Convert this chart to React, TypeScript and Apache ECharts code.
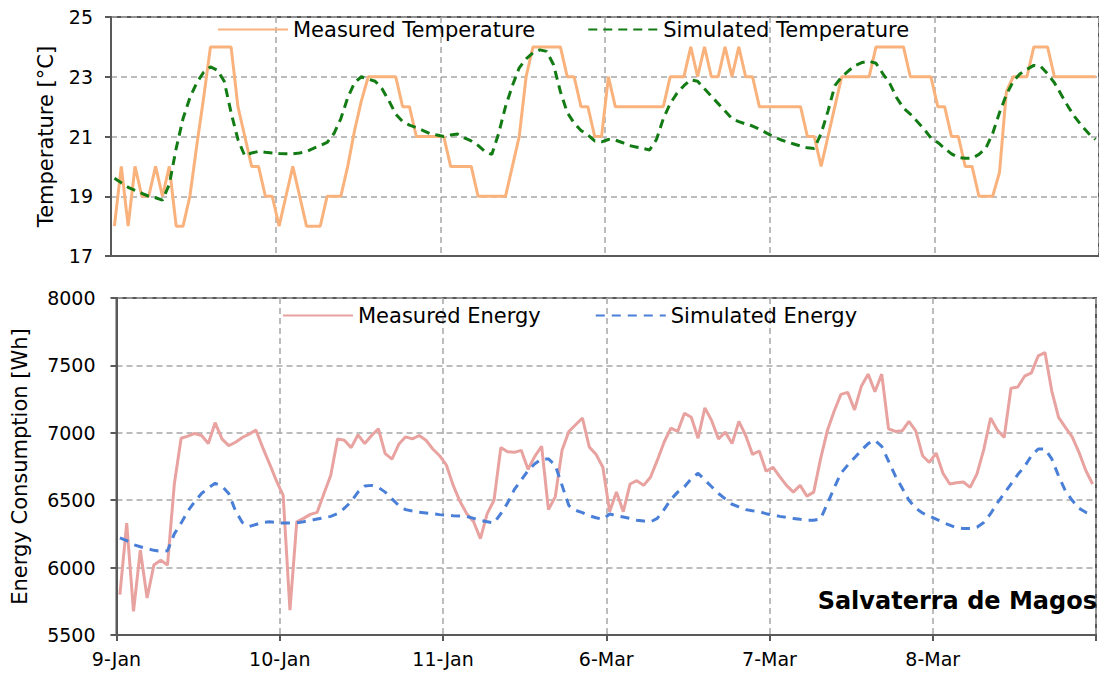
import React, { useEffect, useRef } from 'react';
import * as echarts from 'echarts';

const dayLabels = ['9-Jan', '10-Jan', '11-Jan', '6-Mar', '7-Mar', '8-Mar'];

const measuredTemp = [
  18, 20, 18, 20, 19, 19, 20, 19, 20, 18,
  18, 19, 20.7, 22.3, 24, 24, 24, 24, 22, 21,
  20, 20, 19, 19, 18, 19, 20, 19, 18, 18,
  18, 19, 19, 19, 20, 21.2, 22.2, 23, 23, 23,
  23, 23, 22, 22, 21, 21, 21, 21, 21, 20,
  20, 20, 20, 19, 19, 19, 19, 19, 20, 21,
  23, 24, 24, 24, 24, 24, 23, 23, 22, 22,
  21, 21, 23, 22, 22, 22, 22, 22, 22, 22,
  22, 23, 23, 23, 24, 23, 24, 23, 23, 24,
  23, 24, 23, 23, 22, 22, 22, 22, 22, 22,
  22, 21, 21, 20, 21, 22, 23, 23, 23, 23,
  23, 24, 24, 24, 24, 24, 23, 23, 23, 23,
  22, 22, 21, 21, 20, 20, 19, 19, 19, 19.8,
  22.5, 23, 23, 23, 24, 24, 24, 23, 23, 23,
  23, 23, 23, 23,
];

const simulatedTemp = [
  19.6, 19.45, 19.3, 19.2, 19.1, 19.0, 18.95, 18.87, 19.4, 20.6,
  21.6, 22.3, 22.8, 23.15, 23.33, 23.22, 22.85, 21.8, 20.9, 20.35,
  20.45, 20.5, 20.47, 20.45, 20.43, 20.42, 20.42, 20.45, 20.5, 20.6,
  20.7, 20.8, 21.1, 21.6, 22.3, 22.8, 23.0, 22.92, 22.85, 22.6,
  22.2, 21.75, 21.5, 21.38, 21.3, 21.2, 21.1, 21.05, 21.0, 21.05,
  21.08, 20.95, 20.85, 20.7, 20.5, 20.4, 21.1, 22.0, 22.7, 23.3,
  23.6, 23.8, 23.9, 23.85, 23.4, 22.5, 21.8, 21.45, 21.2, 21.05,
  20.85, 20.82, 20.9, 20.88, 20.8, 20.7, 20.65, 20.6, 20.55, 20.9,
  21.6, 22.1, 22.45, 22.7, 22.9, 22.85, 22.6, 22.35, 22.1, 21.85,
  21.6, 21.5, 21.42, 21.35, 21.25, 21.12, 21.0, 20.9, 20.82, 20.75,
  20.68, 20.62, 20.6, 21.1, 21.85, 22.7, 23.0, 23.2, 23.38, 23.48,
  23.52, 23.45, 23.1, 22.78, 22.3, 21.95, 21.75, 21.5, 21.25, 20.95,
  20.8, 20.6, 20.42, 20.3, 20.27, 20.27, 20.4, 20.6, 21.1, 21.8,
  22.4, 22.85, 23.1, 23.25, 23.38, 23.35, 23.1, 22.8, 22.4, 22.0,
  21.65, 21.35, 21.1, 20.9,
];

const measuredEnergy = [
  5800, 6330, 5675, 6130, 5775, 6020, 6055, 6020, 6620, 6960,
  6975, 6995, 6980, 6920, 7075, 6955, 6905, 6930, 6965, 6990,
  7020, 6890, 6770, 6645, 6535, 5685, 6340, 6365, 6395, 6410,
  6550, 6685, 6955, 6945, 6890, 6985, 6920, 6980, 7030, 6845,
  6805, 6915, 6970, 6955, 6980, 6945, 6880, 6830, 6760, 6610,
  6490, 6400, 6340, 6215, 6400, 6500, 6890, 6860, 6855, 6870,
  6730, 6825, 6900, 6430, 6525, 6870, 7010, 7060, 7110, 6895,
  6840, 6745, 6415, 6560, 6415, 6620, 6645, 6610, 6670, 6795,
  6930, 7035, 7010, 7145, 7115, 6960, 7185, 7090, 6955, 7005,
  6920, 7085, 6980, 6840, 6865, 6715, 6745, 6675, 6610, 6560,
  6610, 6530, 6560, 6805, 7015, 7160, 7285, 7300, 7170, 7345,
  7435, 7305, 7435, 7030, 7010, 7015, 7085, 7015, 6830, 6780,
  6850, 6700, 6620, 6630, 6635, 6595, 6695, 6875, 7110, 7020,
  6965, 7330, 7340, 7420, 7445, 7570, 7595, 7310, 7115, 7040,
  6970, 6855, 6720, 6620,
];

const simulatedEnergy = [
  6220, 6200, 6170, 6155, 6140, 6128, 6120, 6125, 6250, 6330,
  6420, 6490, 6550, 6590, 6625, 6605, 6550, 6420, 6335, 6305,
  6320, 6335, 6340, 6335, 6330, 6330, 6332, 6340, 6350, 6360,
  6370, 6380, 6400, 6440, 6490, 6560, 6605, 6610, 6595, 6560,
  6510, 6460, 6430, 6420, 6410, 6405, 6400, 6393, 6388, 6385,
  6383, 6380, 6365, 6350, 6340, 6330, 6400, 6480, 6580, 6650,
  6720, 6770, 6806, 6806, 6760, 6610, 6460, 6425, 6408, 6385,
  6370, 6358, 6398, 6385, 6376, 6365, 6351, 6345, 6339, 6365,
  6430, 6505, 6560, 6600, 6660, 6700, 6650, 6600, 6550, 6510,
  6470, 6450, 6430, 6422, 6415, 6400, 6390, 6380, 6372, 6365,
  6358, 6352, 6352, 6360, 6474, 6590, 6700, 6760, 6815, 6870,
  6920, 6945, 6900, 6790, 6680, 6590, 6500, 6440, 6405, 6382,
  6360, 6335, 6315, 6295, 6290, 6290, 6300, 6335, 6400, 6480,
  6550, 6620, 6690, 6750, 6830, 6880, 6880, 6806, 6680, 6570,
  6499, 6440, 6410, 6395,
];

const toPairs = (arr: number[]) => arr.map((v, i) => [i + 0.5, v]);

const FONT = 'DejaVu Sans';
const AXIS_COLOR = '#595959';
const GRID_COLOR = '#A6A6A6';

export default function App() {
  const ref = useRef<HTMLDivElement>(null);
  useEffect(() => {
    if (!ref.current) return;
    const chart = echarts.init(ref.current, undefined, { renderer: 'svg' });
    const splitLine = { show: true, lineStyle: { color: GRID_COLOR, type: [6, 4], width: 1.5 } };
    const axisLine = { show: true, lineStyle: { color: AXIS_COLOR, width: 2 } };
    const plainNum = (v: number) => String(v);
    const option: any = {
      animation: false,
      textStyle: { fontFamily: FONT },
      grid: [
        { left: 111, top: 17, width: 996, height: 239, show: true, borderColor: AXIS_COLOR, borderWidth: 2 },
        { left: 116.5, top: 298, width: 991, height: 337, show: true, borderColor: AXIS_COLOR, borderWidth: 2 },
      ],
      xAxis: [
        {
          gridIndex: 0, type: 'value', min: 0, max: 144, interval: 24,
          axisLine, axisTick: { show: false }, axisLabel: { show: false }, splitLine,
        },
        {
          gridIndex: 1, type: 'value', min: 0, max: 144, interval: 24,
          axisLine,
          axisTick: { show: true, length: 6, lineStyle: { color: AXIS_COLOR, width: 2 } },
          axisLabel: {
            formatter: (v: number) => dayLabels[Math.round(v / 24)] ?? '',
            fontSize: 19, color: '#000', margin: 14, fontFamily: FONT,
          },
          splitLine,
        },
      ],
      yAxis: [
        {
          gridIndex: 0, type: 'value', min: 17, max: 25, interval: 2,
          name: 'Temperature [°C]', nameLocation: 'middle', nameGap: 55,
          nameTextStyle: { fontSize: 21, color: '#000', fontFamily: FONT },
          axisLine,
          axisTick: { show: true, length: 6, lineStyle: { color: AXIS_COLOR, width: 2 } },
          axisLabel: { fontSize: 19, color: '#000', margin: 18, fontFamily: FONT, formatter: plainNum },
          splitLine,
        },
        {
          gridIndex: 1, type: 'value', min: 5500, max: 8000, interval: 500,
          name: 'Energy Consumption [Wh]', nameLocation: 'middle', nameGap: 86,
          nameTextStyle: { fontSize: 21, color: '#000', fontFamily: FONT },
          axisLine,
          axisTick: { show: true, length: 6, lineStyle: { color: AXIS_COLOR, width: 2 } },
          axisLabel: { fontSize: 19, color: '#000', margin: 21, fontFamily: FONT, formatter: plainNum },
          splitLine,
        },
      ],
      legend: [
        {
          data: ['Measured Temperature', 'Simulated Temperature'],
          left: 212, top: 14, itemWidth: 70, itemHeight: 14, itemGap: 52,
          itemStyle: { opacity: 0 },
          textStyle: { fontSize: 21, color: '#000', fontFamily: FONT },
        },
        {
          data: ['Measured Energy', 'Simulated Energy'],
          left: 277, top: 300, itemWidth: 70, itemHeight: 14, itemGap: 54,
          itemStyle: { opacity: 0 },
          textStyle: { fontSize: 21, color: '#000', fontFamily: FONT },
        },
      ],
      series: [
        {
          name: 'Measured Temperature', type: 'line', xAxisIndex: 0, yAxisIndex: 0,
          data: toPairs(measuredTemp), symbol: 'none', showSymbol: false,
          lineStyle: { color: '#FAB27D', width: 3 }, itemStyle: { color: '#FAB27D' },
        },
        {
          name: 'Simulated Temperature', type: 'line', xAxisIndex: 0, yAxisIndex: 0,
          data: toPairs(simulatedTemp), symbol: 'none', showSymbol: false,
          lineStyle: { color: '#137B13', width: 3, type: [9, 6] }, itemStyle: { color: '#137B13' },
        },
        {
          name: 'Measured Energy', type: 'line', xAxisIndex: 1, yAxisIndex: 1,
          data: toPairs(measuredEnergy), symbol: 'none', showSymbol: false,
          lineStyle: { color: '#E8A2A0', width: 3 }, itemStyle: { color: '#E8A2A0' },
        },
        {
          name: 'Simulated Energy', type: 'line', xAxisIndex: 1, yAxisIndex: 1,
          data: toPairs(simulatedEnergy), symbol: 'none', showSymbol: false,
          lineStyle: { color: '#4A7FD8', width: 3, type: [9, 7] }, itemStyle: { color: '#4A7FD8' },
        },
      ],
      graphic: [
        {
          type: 'text', x: 1097, y: 601, z: 100,
          style: {
            text: 'Salvaterra de Magos', fontSize: 24, fontWeight: 'bold', fontFamily: FONT,
            fill: '#000', align: 'right', verticalAlign: 'middle',
          },
        },
      ],
    };
    chart.setOption(option);
    return () => chart.dispose();
  }, []);
  return <div ref={ref} style={{ position: 'fixed', left: 0, top: 0, width: 1099, height: 673, background: '#fff' }} />;
}
